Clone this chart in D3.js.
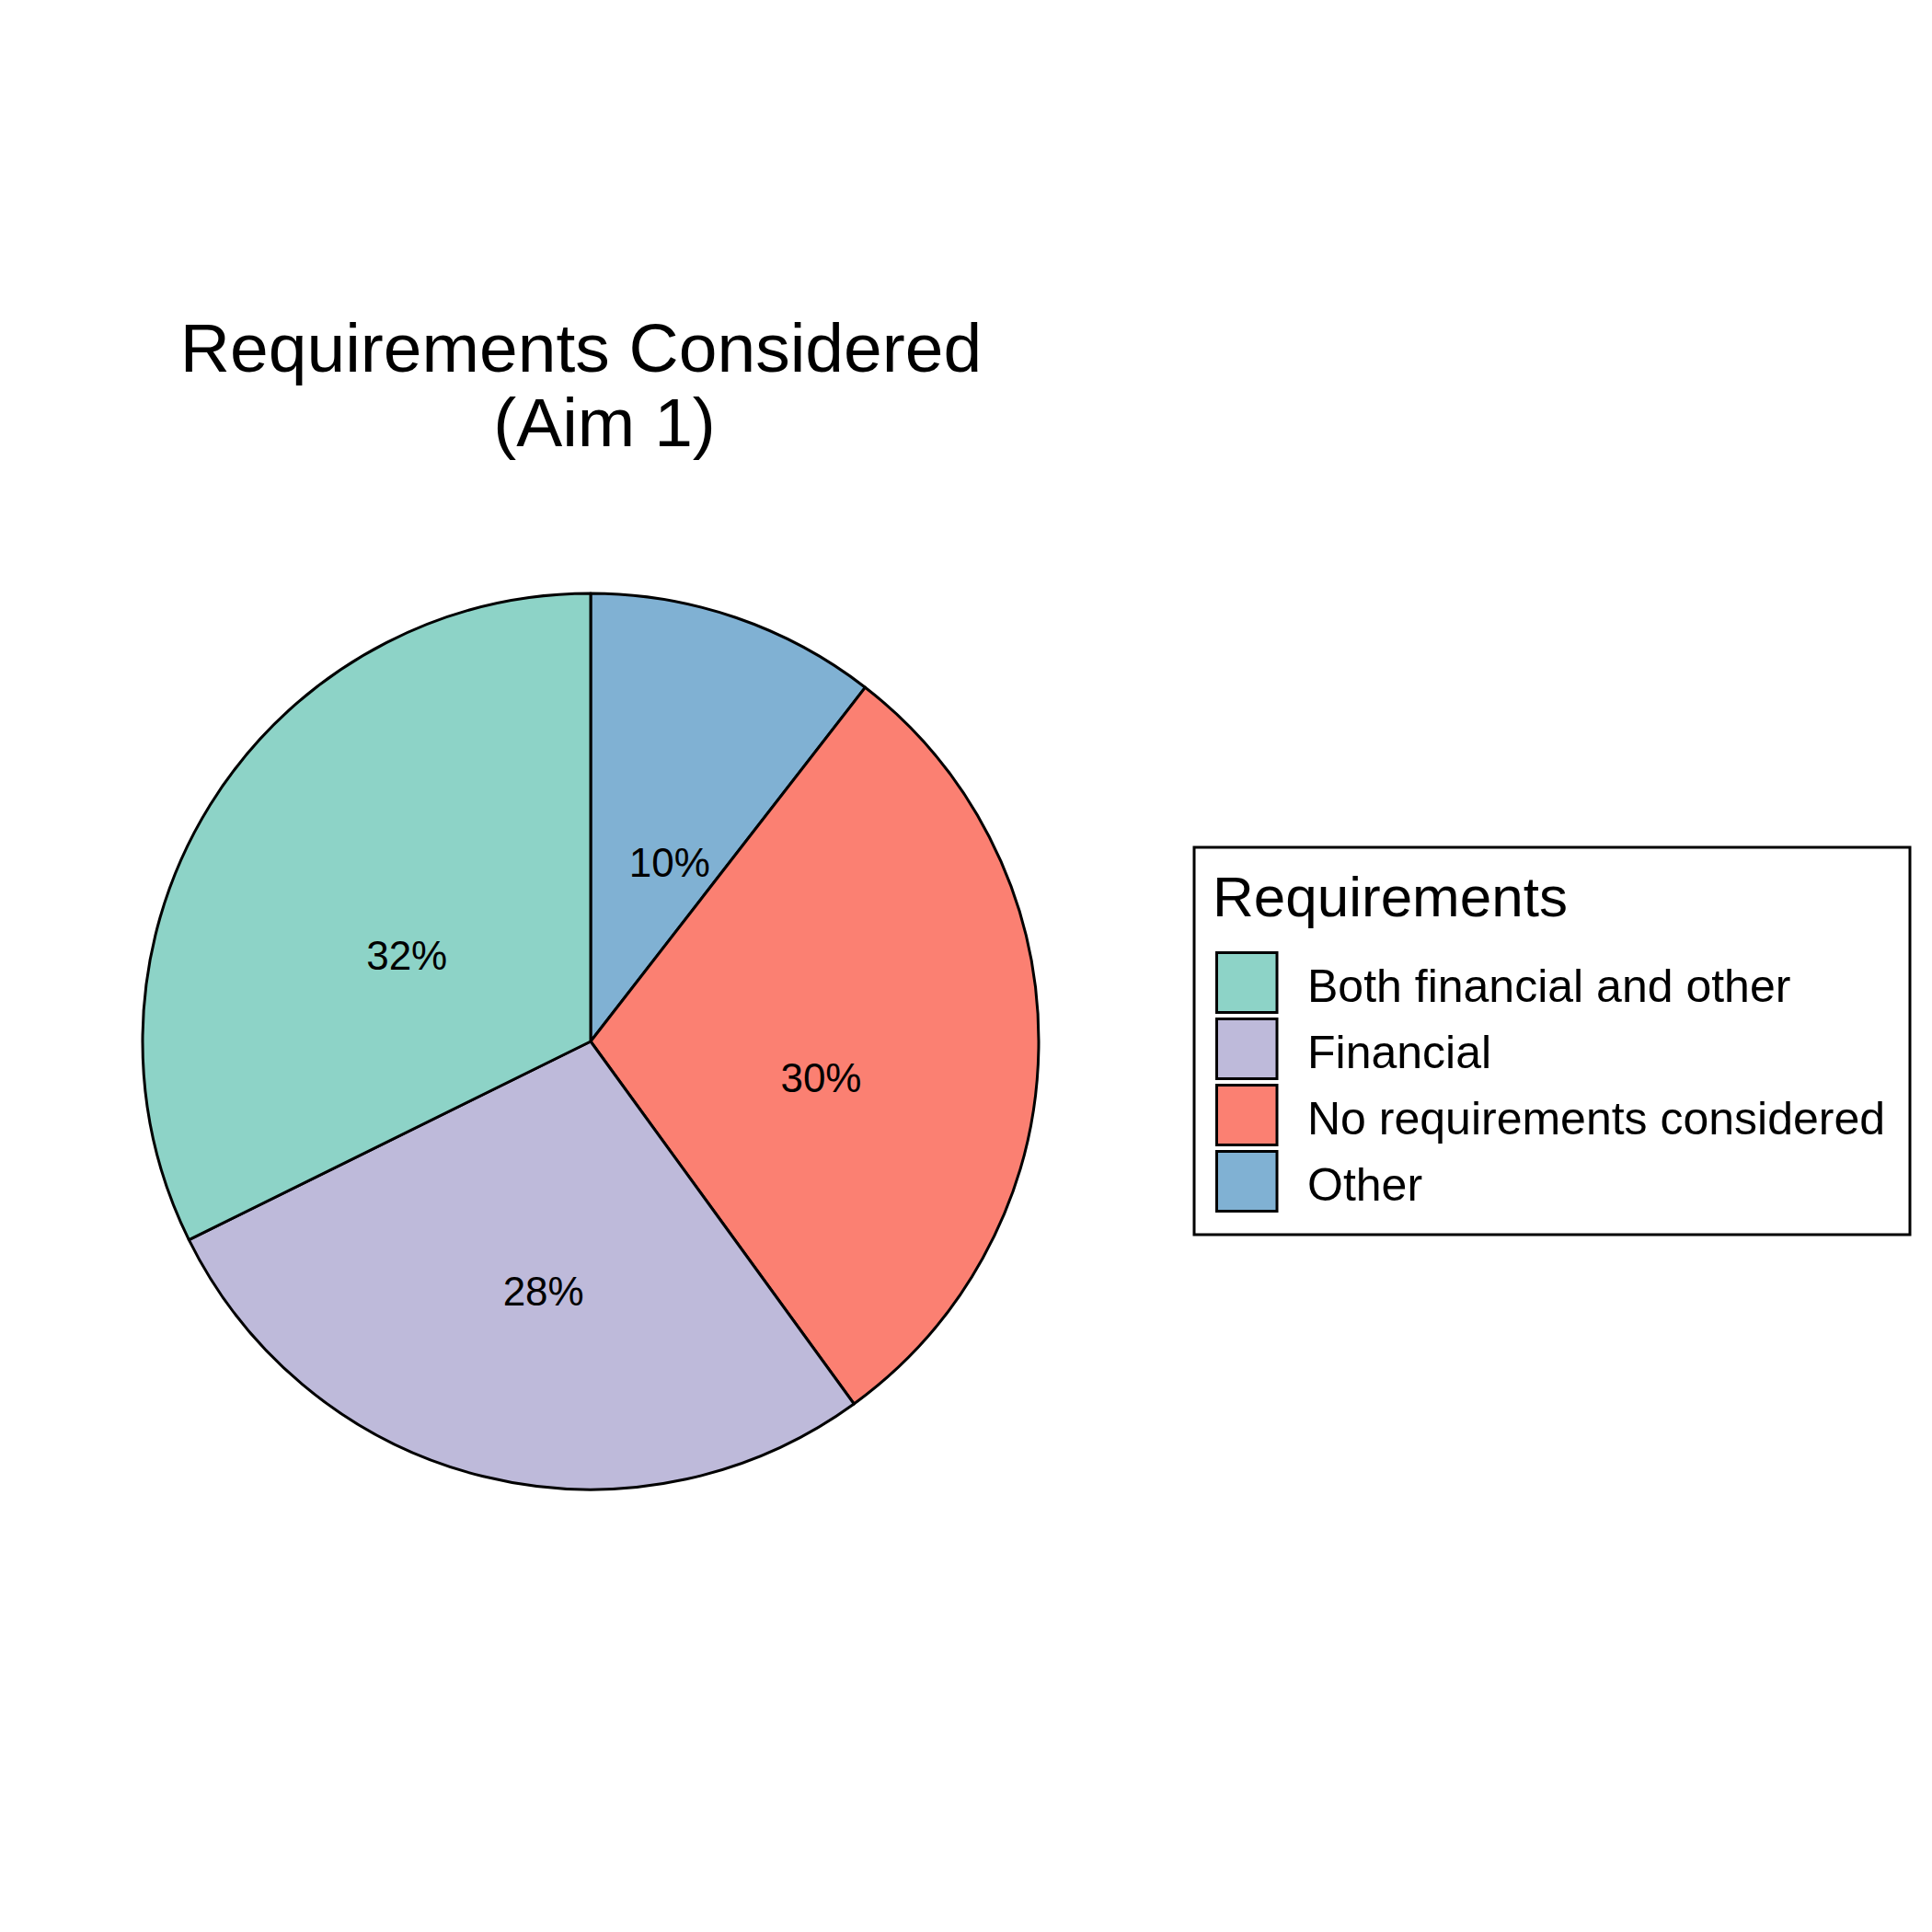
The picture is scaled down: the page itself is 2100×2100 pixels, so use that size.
<!DOCTYPE html>
<html>
<head>
<meta charset="utf-8">
<script src="https://cdn.jsdelivr.net/npm/d3@7"></script>
<style>
  body { margin: 0; background: #ffffff; }
  svg { display: block; }
</style>
</head>
<body>
<div id="pie_requirements"></div>
<script>
// chart values
const categories = ["Both financial and other", "Financial", "No requirements considered", "Other"];
// slice sizes (percent of circle)
const shares = [32.3, 27.7, 29.5, 10.5];
// labels as printed on the slices
const shareLabels = ["32%", "28%", "30%", "10%"];
const sliceColors = ["#8DD3C7", "#BEBADA", "#FB8072", "#80B1D3"];
const titleLines = ["Requirements Considered", "(Aim 1)"];
const legendTitle = "Requirements";

// canvas
const pieCanvWidth = 2100, pieCanvHeight = 2100;
const fontFamily = "'Liberation Sans', Arial, Helvetica, sans-serif";

const pieCenter = {x: 642, y: 1132};
const pieRadius = 487;

const pieSVG = d3.select('#pie_requirements')
    .append('svg')
    .attr('width', pieCanvWidth)
    .attr('height', pieCanvHeight);

pieSVG.append('rect')
    .attr('width', pieCanvWidth)
    .attr('height', pieCanvHeight)
    .attr('fill', '#ffffff');

const color = d3.scaleOrdinal()
    .domain(categories)
    .range(sliceColors);

const data = categories.map((c, i) => ({category: c, share: shares[i], label: shareLabels[i]}));

// ggplot stacks the first level last, so the pie runs clockwise from Other
const pie = d3.pie()
    .sort(null)
    .value(d => d.share);

const arcs = pie(data.slice().reverse());

const arc = d3.arc()
    .innerRadius(0)
    .outerRadius(pieRadius);

const pieG = pieSVG.append('g')
    .attr('transform', `translate(${pieCenter.x},${pieCenter.y})`);

pieG.selectAll('path')
    .data(arcs)
    .join('path')
    .attr('d', arc)
    .attr('fill', d => color(d.data.category))
    .attr('stroke', '#000000')
    .attr('stroke-width', 3)
    .attr('stroke-linejoin', 'round');

// percentage labels (centroid at half radius, shifted down like the original)
pieG.selectAll('text.pct')
    .data(arcs)
    .join('text')
    .attr('class', 'pct')
    .attr('x', d => arc.centroid(d)[0] + 7)
    .attr('y', d => arc.centroid(d)[1] + 51)
    .attr('font-family', fontFamily)
    .attr('font-size', 44)
    .attr('fill', '#000000')
    .style('text-anchor', 'middle')
    .text(d => d.data.label);

// title, two lines
const titleX = [631.5, 657];
pieSVG.selectAll('text.title')
    .data(titleLines)
    .join('text')
    .attr('class', 'title')
    .attr('x', (d, i) => titleX[i])
    .attr('y', (d, i) => 404 + i * 81)
    .attr('font-family', fontFamily)
    .attr('font-size', 75)
    .attr('fill', '#000000')
    .style('text-anchor', 'middle')
    .text(d => d);

// legend
const legendG = pieSVG.append('g');

legendG.append('rect')
    .attr('x', 1298)
    .attr('y', 921)
    .attr('width', 778)
    .attr('height', 421)
    .attr('fill', '#ffffff')
    .attr('stroke', '#000000')
    .attr('stroke-width', 3);

legendG.append('text')
    .attr('x', 1318)
    .attr('y', 996)
    .attr('font-family', fontFamily)
    .attr('font-size', 62)
    .attr('fill', '#000000')
    .text(legendTitle);

const keyY = d3.scaleBand()
    .domain(categories)
    .range([1034, 1034 + 72 * categories.length])
    .paddingInner(0);

legendG.selectAll('rect.key')
    .data(categories)
    .join('rect')
    .attr('class', 'key')
    .attr('x', 1322.5)
    .attr('y', d => keyY(d) + 1.5)
    .attr('width', 65.5)
    .attr('height', 65)
    .attr('fill', d => color(d))
    .attr('stroke', '#000000')
    .attr('stroke-width', 3);

legendG.selectAll('text.keylab')
    .data(categories)
    .join('text')
    .attr('class', 'keylab')
    .attr('x', 1421)
    .attr('y', d => keyY(d) + 54.5)
    .attr('font-family', fontFamily)
    .attr('font-size', 50)
    .attr('fill', '#000000')
    .text(d => d);
</script>
</body>
</html>
